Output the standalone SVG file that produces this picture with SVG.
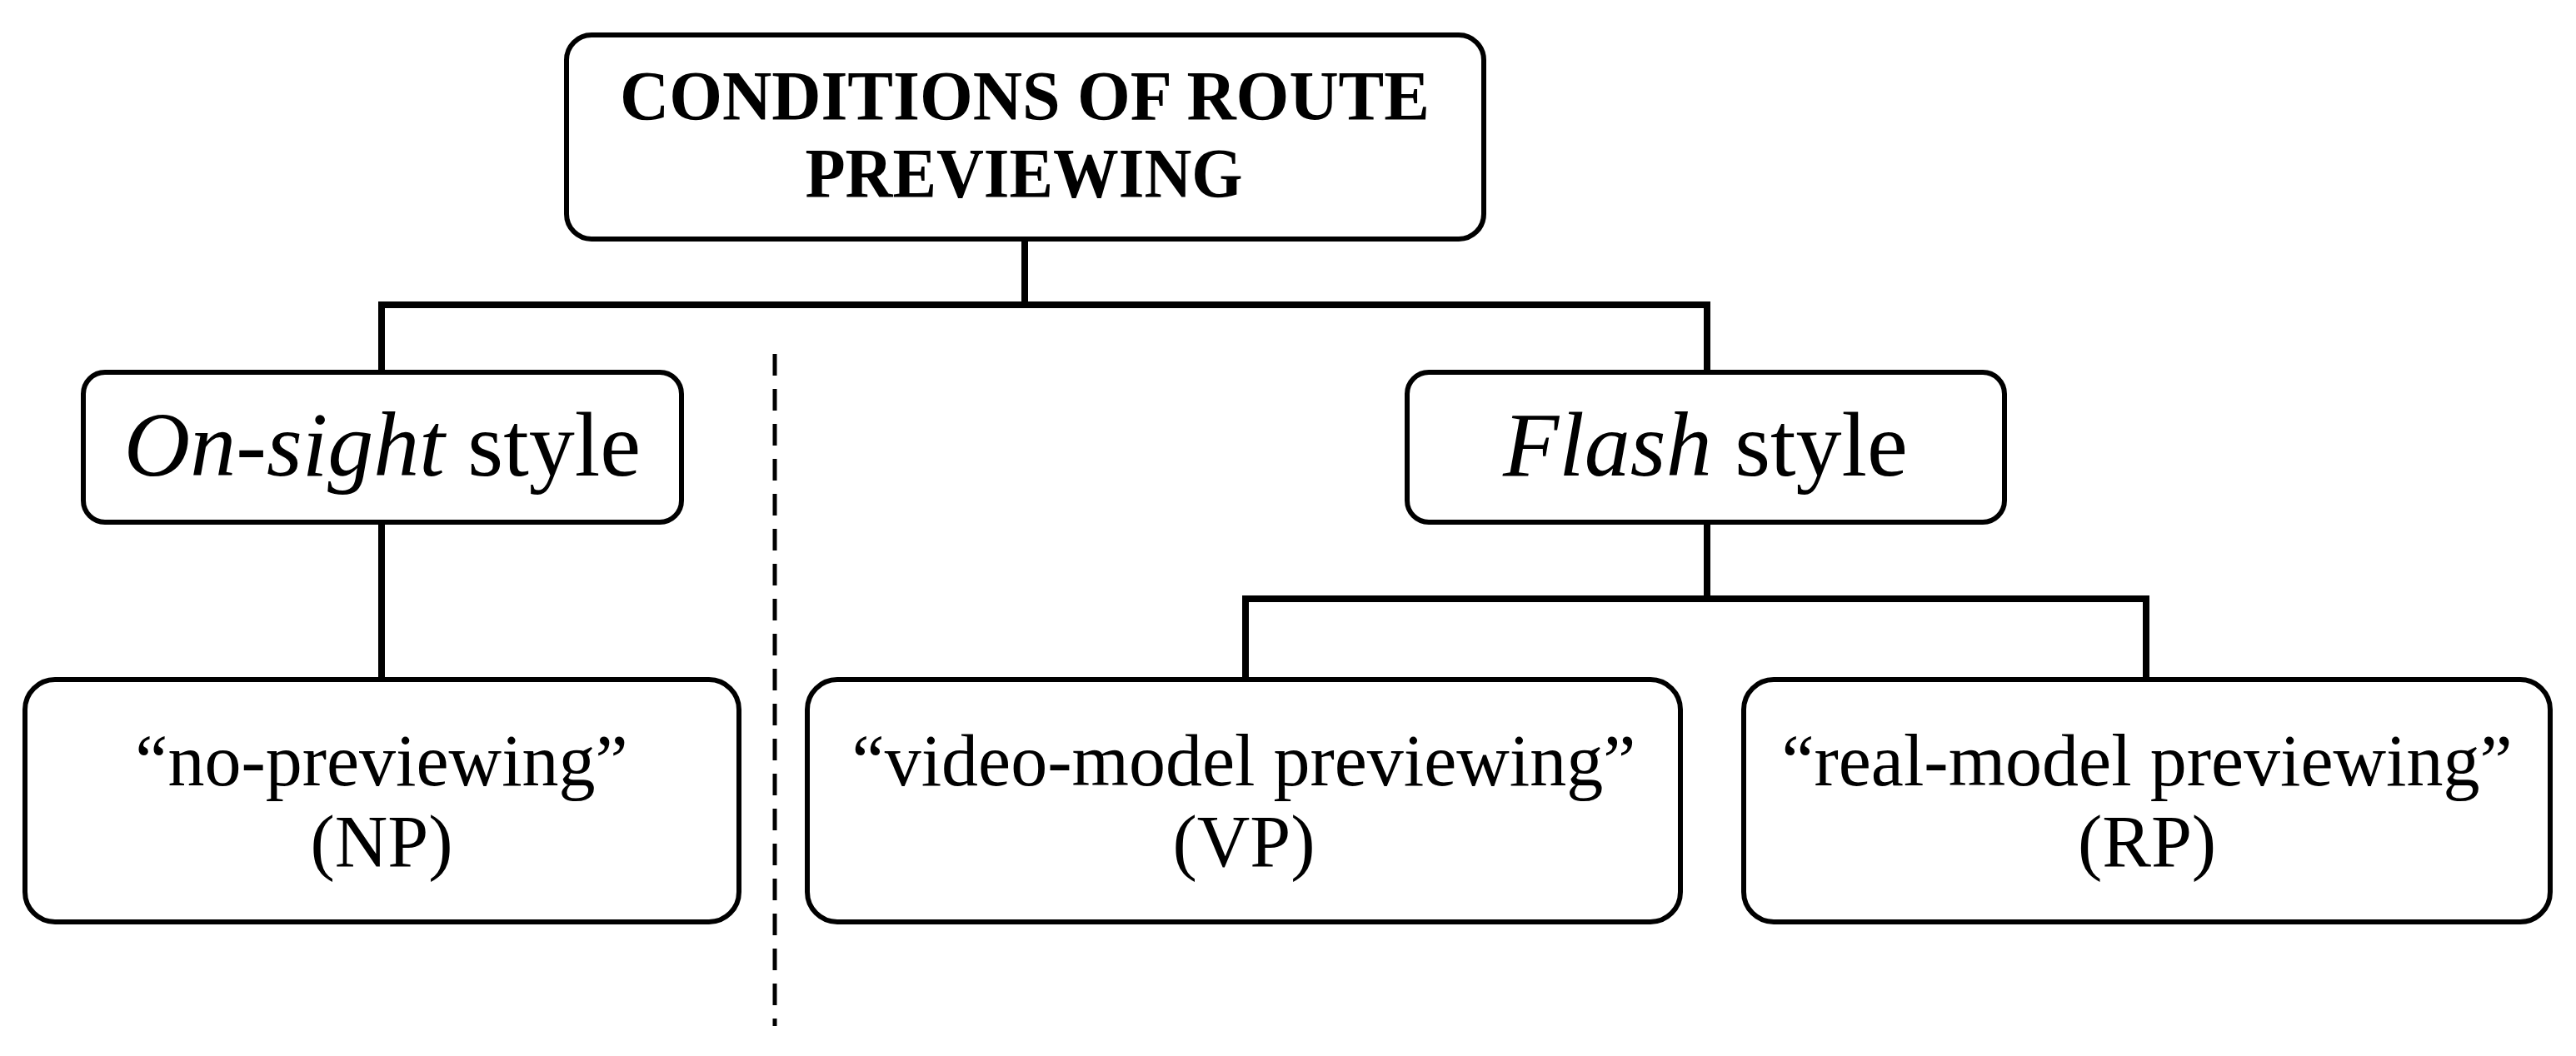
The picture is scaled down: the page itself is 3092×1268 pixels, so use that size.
<svg xmlns="http://www.w3.org/2000/svg" width="3092" height="1268" viewBox="0 0 3092 1268">
<style>
.box{fill:#fff;stroke:#000;stroke-width:6}
.t{font-family:"Liberation Serif",serif;fill:#000;text-anchor:middle}
.c{fill:none;stroke:#000;stroke-width:8}
</style>
<rect width="3092" height="1268" fill="#fff"/>
<g id="connectors">
<path class="c" d="M1230 287V366M458 366H2049M458 362V447M2049 362V447M458 627V816M2049 627V719M1495 719H2576M1495 715V816M2576 715V816"/>
<path d="M930 425V1232" stroke="#000" stroke-width="5" stroke-dasharray="26 16"/>
</g>
<g id="root"><rect class="box" x="680" y="42" width="1101" height="245" rx="30"/>
<text class="t" font-weight="bold" font-size="84"><tspan x="1230" y="144" textLength="972" lengthAdjust="spacingAndGlyphs">CONDITIONS OF ROUTE</tspan><tspan x="1229" y="237" textLength="525" lengthAdjust="spacingAndGlyphs">PREVIEWING</tspan></text></g>
<g id="onsight"><rect class="box" x="100" y="447" width="718" height="180" rx="26"/>
<text class="t" x="459" y="571" font-size="110"><tspan font-style="italic">On-sight</tspan> style</text></g>
<g id="flash"><rect class="box" x="1689" y="447" width="717" height="180" rx="26"/>
<text class="t" x="2047" y="571" font-size="110"><tspan font-style="italic">Flash</tspan> style</text></g>
<g id="np"><rect class="box" x="30" y="816" width="857" height="291" rx="36"/>
<text class="t" font-size="88"><tspan x="458" y="943">“no-previewing”</tspan><tspan x="458" y="1040">(NP)</tspan></text></g>
<g id="vp"><rect class="box" x="969" y="816" width="1048" height="291" rx="36"/>
<text class="t" font-size="88"><tspan x="1493" y="943">“video-model previewing”</tspan><tspan x="1493" y="1040">(VP)</tspan></text></g>
<g id="rp"><rect class="box" x="2093" y="816" width="968" height="291" rx="36"/>
<text class="t" font-size="88"><tspan x="2577" y="943">“real-model previewing”</tspan><tspan x="2577" y="1040">(RP)</tspan></text></g>
</svg>
